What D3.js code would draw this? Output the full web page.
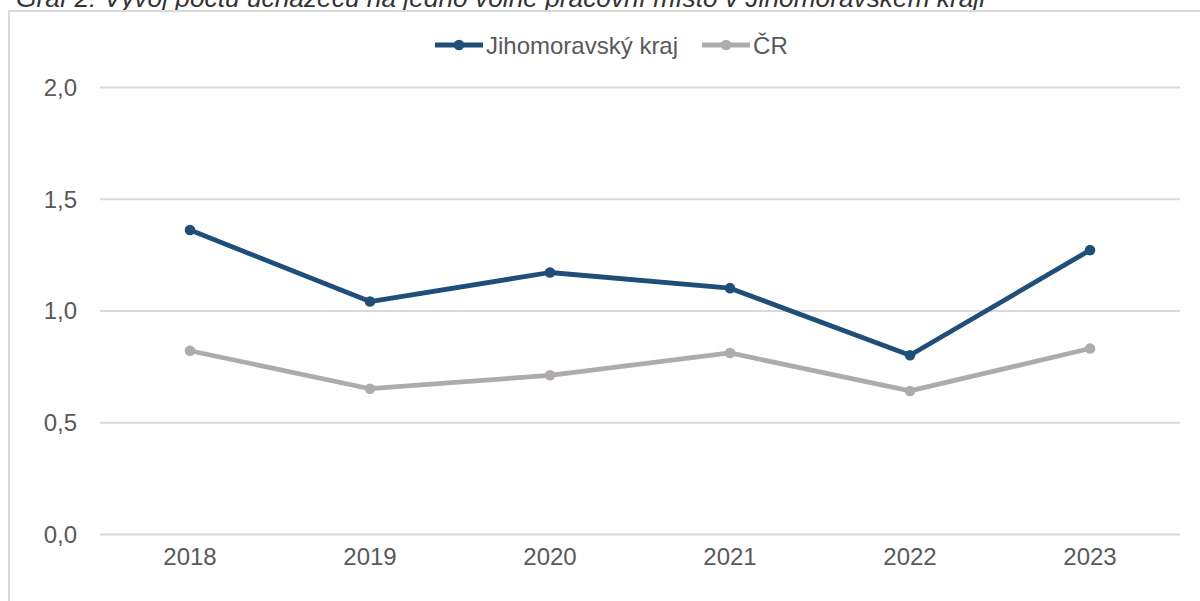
<!DOCTYPE html>
<html>
<head>
<meta charset="utf-8">
<script src="https://cdn.jsdelivr.net/npm/d3@7"></script>
<style>
  body { margin: 0; background: #fff; }
  svg { display: block; font-family: Arial, "Liberation Sans", sans-serif; }
</style>
</head>
<body>
<svg class="chart" width="1200" height="601"></svg>
<script>
	// data
	var years = ["2018", "2019", "2020", "2021", "2022", "2023"];
	var jmk = [1.36, 1.04, 1.17, 1.10, 0.80, 1.27];
	var cr = [0.82, 0.65, 0.71, 0.81, 0.64, 0.83];
	var yTicks = [0, 0.5, 1, 1.5, 2];
	var seriesNames = ["Jihomoravský kraj", "ČR"];

	const colors = {
		jmk: "#1f4e79",
		cr: "#afabab",
		grid: "#d9d9d9",
		text: "#595959"
	};
	var fontSize = 24;

	var svg = d3.select('.chart');

	// title, clipped at the top like in the source
	svg.append("text")
		.attr("x", 16)
		.attr("y", 7)
		.attr("font-size", 26.3)
		.attr("font-style", "italic")
		.attr("fill", "#333")
		.text("Graf 2: Vývoj počtu uchazečů na jedno volné pracovní místo v Jihomoravském kraji");

	// chart frame
	svg.append("path")
		.attr("d", "M9,601 V11 H1200")
		.attr("fill", "none")
		.attr("stroke", colors.grid)
		.attr("stroke-width", 2);

	var x = d3.scaleBand()
		.domain(years)
		.range([100, 1180]);

	var y = d3.scaleLinear()
		.domain([0, 2])
		.range([534, 87]);

	// gridlines + y labels
	var yAxis = svg.append("g")
		.attr("transform", "translate(100,0)")
		.call(d3.axisLeft(y).tickValues(yTicks).tickSize(-1080).tickPadding(23)
			.tickFormat((d) => d3.format(".1f")(d).replace(".", ",")));
	yAxis.select(".domain").remove();
	yAxis.selectAll("line").attr("stroke", colors.grid).attr("stroke-width", 2);
	yAxis.selectAll("text")
		.attr("fill", colors.text)
		.attr("font-size", fontSize)
		.attr("font-family", null)
		.attr("dy", "0.35em");

	// x labels
	var xAxis = svg.append("g")
		.attr("transform", "translate(0,534)")
		.call(d3.axisBottom(x).tickSize(0).tickPadding(14));
	xAxis.select(".domain").remove();
	xAxis.selectAll("text")
		.attr("fill", colors.text)
		.attr("font-size", fontSize)
		.attr("font-family", null)
		.attr("dy", "0.71em");

	var series = [
		{name: seriesNames[0], values: jmk, color: colors.jmk},
		{name: seriesNames[1], values: cr, color: colors.cr}
	];

	var line = d3.line()
		.x((d, i) => x(years[i]) + x.bandwidth() / 2)
		.y((d) => y(d));

	// draw the grey one first so the blue sits on top
	series.slice().reverse().forEach(function(s) {
		svg.append("path")
			.datum(s.values)
			.attr("fill", "none")
			.attr("stroke", s.color)
			.attr("stroke-width", 4.8)
			.attr("stroke-linejoin", "round")
			.attr("d", line);

		svg.append("g")
			.selectAll("circle")
			.data(s.values)
			.enter()
			.append("circle")
			.attr("cx", (d, i) => x(years[i]) + x.bandwidth() / 2)
			.attr("cy", (d) => y(d))
			.attr("r", 5.3)
			.attr("fill", s.color);
	});

	// legend
	var lx = 435;
	series.forEach(function(s) {
		var g = svg.append("g").attr("transform", "translate(" + lx + ",45)");
		g.append("line")
			.attr("x1", 0).attr("x2", 48)
			.attr("stroke", s.color)
			.attr("stroke-width", 4.8);
		g.append("circle")
			.attr("cx", 24)
			.attr("r", 5.3)
			.attr("fill", s.color);
		var t = g.append("text")
			.attr("x", 51)
			.attr("y", 9)
			.attr("font-size", fontSize)
			.attr("fill", colors.text)
			.text(s.name);
		lx += 51 + t.node().getComputedTextLength() + 24;
	});
</script>
</body>
</html>
